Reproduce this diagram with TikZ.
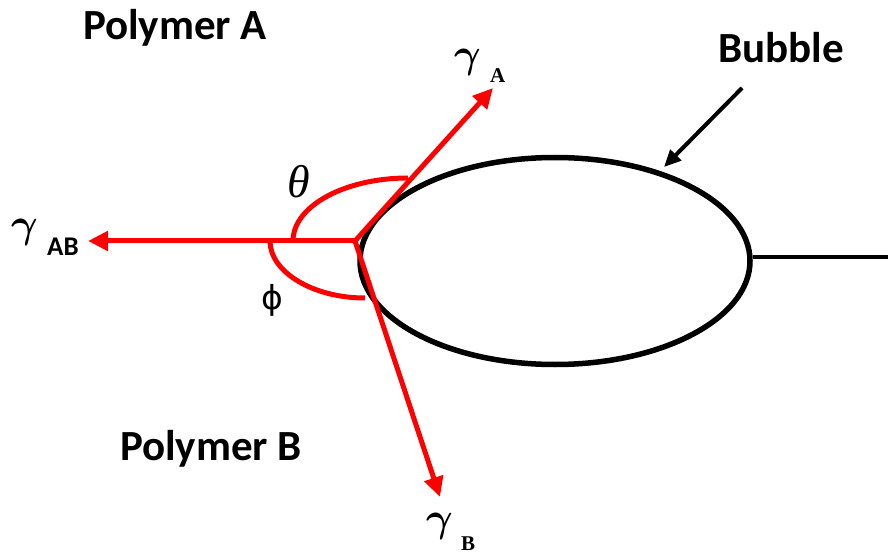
\RequirePackage{fix-cm}
\documentclass[tikz,border=0pt]{standalone}
\usepackage{fontspec}
\setmainfont{Liberation Serif}
\newfontfamily\calib{Carlito}
\newfontfamily\dejav{DejaVu Sans}
\usetikzlibrary{arrows.meta,shapes.geometric}
\definecolor{redline}{RGB}{255,0,0}
\begin{document}
\begin{tikzpicture}[x=1pt,y=-1pt,
  redarrow/.style={draw=redline,line width=5pt,-{Triangle[length=20pt,width=19pt]}},
  redarc/.style={draw=redline,line width=5pt},
  lbl/.style={inner sep=0pt,font=\calib\bfseries\fontsize{43}{50}\selectfont},
  gam/.style={inner sep=0pt,font=\fontsize{41}{48}\selectfont\boldmath},
  subserif/.style={inner sep=0pt,font=\bfseries\fontsize{21}{25}\selectfont},
  subsans/.style={inner sep=0pt,font=\calib\bfseries\fontsize{27}{32}\selectfont}]
\useasboundingbox (0,0) rectangle (888,553);
% bubble
\node[draw=black,line width=5.5pt,ellipse,minimum width=390pt,minimum height=207pt,inner sep=0pt] (bub) at (555,261) {};
\coordinate (rend) at (888,257);
\draw[line width=4.5pt] (bub.east |- rend) -- (rend);
% junction and arrows
\coordinate (J) at (355,241);
\coordinate (tA) at (493,88);
\coordinate (tB) at (440,497);
\coordinate (tAB) at (88,241);
\draw[redarrow] (J) -- (tA);
\draw[redarrow] (J) -- (tB);
\draw[redarrow] (J) -- (tAB);
% angle arcs
\coordinate (th1) at (293,241);
\coordinate (th2) at (408,178);
\coordinate (ph1) at (270,241);
\coordinate (ph2) at (365,298);
\draw[redarc] (th1) .. controls (293,206) and (345,178) .. (th2);
\draw[redarc] (ph1) .. controls (270,272) and (313,298) .. (ph2);
% labels
\node[lbl,anchor=base] (polA) at (175,40) {Polymer A};
\node[lbl,anchor=base] (polB) at (211,460) {Polymer B};
\node[lbl,anchor=base] (bubl) at (781,63) {Bubble};
\coordinate (bArrS) at (742,88);
\coordinate (bArrE) at (664,167);
\draw[line width=4pt,-{Triangle[length=17pt,width=15pt]}] (bArrS) -- (bArrE);
\node[gam,anchor=base west] (gA) at (454,68) {$\gamma$};
\node[subserif,anchor=base west] (sA) at (490,83) {A};
\node[gam,anchor=base west] (gAB) at (11,238) {$\gamma$};
\node[subsans,anchor=base west] (sAB) at (47,255) {AB};
\node[gam,anchor=base west] (gB) at (426,531) {$\gamma$};
\node[subserif,anchor=base west] (sB) at (461,550) {B};
\node[inner sep=0pt,font=\itshape\fontsize{46}{50}\selectfont,anchor=base] (th) at (299,198) {θ};
\node[inner sep=0pt,font=\dejav\fontsize{33}{40}\selectfont] (ph) at (272,300) {ϕ};
\end{tikzpicture}
\end{document}
